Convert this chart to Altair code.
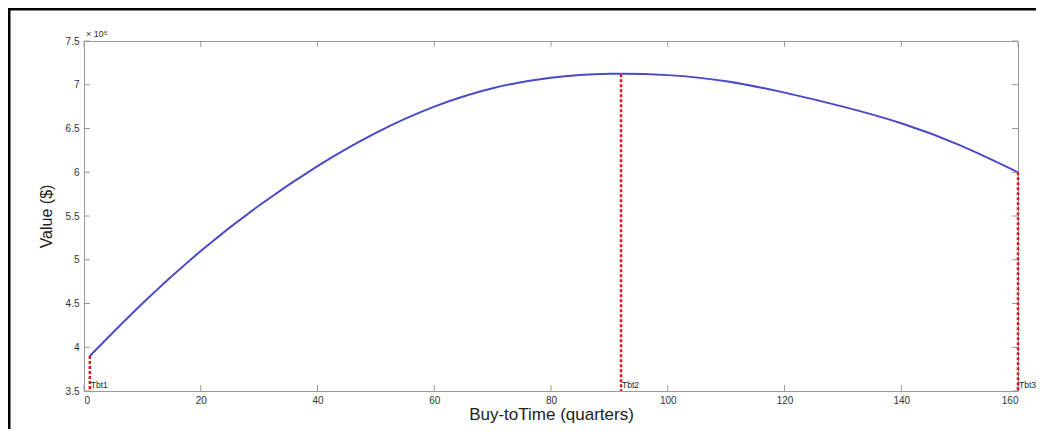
import altair as alt
import pandas as pd

# ---- data ----
quarters = [1, 10, 20, 30, 40, 50, 60, 70, 80, 90, 100, 110, 120, 130, 140, 150, 160]
values = [3.90, 4.50, 5.10, 5.62, 6.07, 6.45, 6.75, 6.96, 7.08, 7.125, 7.11, 7.04, 6.91, 6.75, 6.56, 6.31, 6.00]

tbt_q = [1, 92, 160]
tbt_v = [3.90, 7.12, 6.00]
tbt_labels = ["Tbt1", "Tbt2", "Tbt3"]

x_ticks = [0, 20, 40, 60, 80, 100, 120, 140, 160]
y_ticks = [3.5, 4.0, 4.5, 5.0, 5.5, 6.0, 6.5, 7.0, 7.5]

W, H = 934, 350
FONT = "Liberation Sans"
AXIS_GRAY = "#9a9a9a"

curve_df = pd.DataFrame({"q": quarters, "v": values})
tbt_df = pd.DataFrame({"q": tbt_q, "v": tbt_v, "label": tbt_labels})
xt_df = pd.DataFrame({"q": x_ticks})
yt_df = pd.DataFrame({"v": y_ticks})
one = pd.DataFrame({"a": [0]})

xs = alt.Scale(domain=[0, 160], nice=False, zero=False)
ys = alt.Scale(domain=[3.5, 7.5], nice=False, zero=False)

x_axis = alt.Axis(values=x_ticks, format="d", title="Buy-toTime (quarters)",
                  labelPadding=4, titlePadding=1, titleFontSize=17)
y_axis = alt.Axis(values=y_ticks, format="~g", title="Value ($)",
                  labelPadding=5, titlePadding=11, titleFontSize=16)


def X():
    return alt.X("q:Q", scale=xs, axis=x_axis)


def Y():
    return alt.Y("v:Q", scale=ys, axis=y_axis)


curve = alt.Chart(curve_df).mark_line(
    color="#4a4ac6", strokeWidth=2, interpolate="natural"
).encode(x=X(), y=Y())

# inward tick marks (MATLAB style), on all four sides
tick_left = alt.Chart(yt_df).mark_rule(color=AXIS_GRAY).encode(
    y=Y(), x=alt.value(0), x2=alt.value(6))
tick_right = alt.Chart(yt_df).mark_rule(color=AXIS_GRAY).encode(
    y=Y(), x=alt.value(W - 6), x2=alt.value(W))
tick_bottom = alt.Chart(xt_df).mark_rule(color=AXIS_GRAY).encode(
    x=X(), y=alt.value(H - 6), y2=alt.value(H))
tick_top = alt.Chart(xt_df).mark_rule(color=AXIS_GRAY).encode(
    x=X(), y=alt.value(0), y2=alt.value(6))

# red dashed vertical markers
markers = alt.Chart(tbt_df).mark_rule(
    color="#e3121f", strokeDash=[3, 2], strokeWidth=2.5
).encode(x=X(), y=Y(), y2=alt.value(H))

marker_text = alt.Chart(tbt_df).mark_text(
    align="left", baseline="bottom", dx=1, dy=-1, fontSize=8.5, font=FONT, color="#222222"
).encode(x=X(), y=alt.value(H), text="label:N")

exponent = alt.Chart(one).mark_text(
    text="× 10⁵", align="left", baseline="bottom", fontSize=9, font=FONT, color="#333333"
).encode(x=alt.value(2), y=alt.value(-2))

frame_left = alt.Chart(one).mark_rule(color="black", strokeWidth=3).encode(
    x=alt.value(-75), y=alt.value(-33), y2=alt.value(H + 38))
frame_top = alt.Chart(one).mark_rule(color="black", strokeWidth=3).encode(
    x=alt.value(-75), x2=alt.value(W + 18), y=alt.value(-32))

chart = alt.layer(
    curve, tick_left, tick_right, tick_bottom, tick_top,
    markers, marker_text, exponent, frame_left, frame_top,
).properties(
    width=W, height=H,
    padding={"left": 76, "top": 33, "right": 18, "bottom": 38},
    autosize=alt.AutoSizeParams(type="none"),
).configure_view(
    stroke=AXIS_GRAY, strokeWidth=1
).configure_axis(
    labelFont=FONT, titleFont=FONT, labelFontSize=10, labelColor="#333333",
    titleColor="#222222", titleFontWeight="normal", domain=False, ticks=False, grid=False,
)

chart.save("out.html", embed_options={"renderer": "svg", "actions": False})
